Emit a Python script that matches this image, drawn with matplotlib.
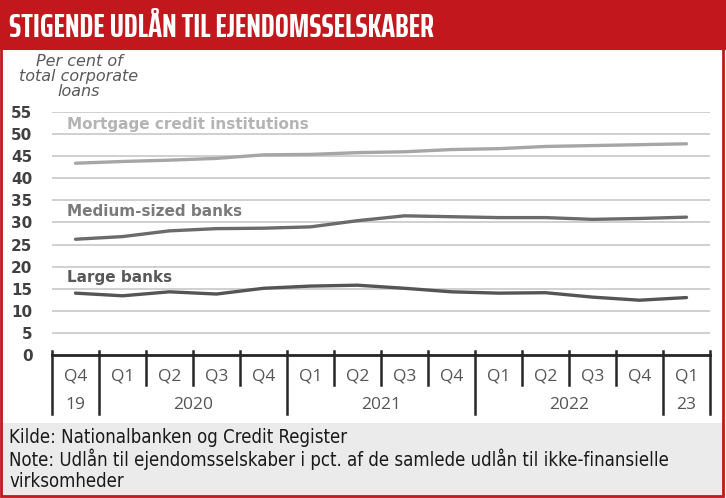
import numpy as np
import matplotlib
matplotlib.use("Agg")
import matplotlib.pyplot as plt
import matplotlib.transforms as mtransforms
from matplotlib.patches import Rectangle
from matplotlib import font_manager

# Data (per cent of total corporate loans)
quarters = ["Q4", "Q1", "Q2", "Q3", "Q4", "Q1", "Q2", "Q3", "Q4",
            "Q1", "Q2", "Q3", "Q4", "Q1"]
years = ["19", "2020", "2021", "2022", "23"]
year_len = [1, 4, 4, 4, 1]

mortgage = [43.4, 43.8, 44.1, 44.5, 45.3, 45.4, 45.8, 46.0, 46.5,
            46.7, 47.2, 47.4, 47.6, 47.8]
medium = [26.2, 26.8, 28.1, 28.6, 28.7, 29.0, 30.4, 31.5, 31.3,
          31.1, 31.1, 30.7, 30.9, 31.2]
large = [14.0, 13.4, 14.3, 13.8, 15.1, 15.6, 15.8, 15.1, 14.3,
         14.0, 14.1, 13.1, 12.4, 13.0]

title_str = "STIGENDE UDLÅN TIL EJENDOMSSELSKABER"
foot_lines = ["Kilde: Nationalbanken og Credit Register",
              "Note: Udlån til ejendomsselskaber i pct. af de samlede udlån til ikke-finansielle",
              "virksomheder"]

W, H = 726, 498
RED = "#c1171d"
DARK = "#404040"


def fx(px):
    return px / W


def fy(py):
    return 1 - py / H


def narrow_faces(bold, need_sans=False):
    # upright condensed / narrow faces on the system
    out = []
    for f in font_manager.fontManager.ttflist:
        tag = (f.name + " " + f.fname).lower()
        narrow = ("condensed" in tag or "narrow" in tag
                  or str(f.stretch) in ("condensed", "semi-condensed", "extra-condensed"))
        if not narrow or f.style != "normal":
            continue
        if "italic" in tag or "oblique" in tag or "mono" in tag or "serif" in tag:
            continue
        if need_sans and "sans" not in tag:
            continue
        w = f.weight if isinstance(f.weight, int) else {"bold": 700, "normal": 400}.get(f.weight, 400)
        if bold and 700 <= w <= 800:
            out.append(f.fname)
        if not bold and w == 400:
            out.append(f.fname)
    return sorted(set(out))


def text_w(fig, renderer, s, fp, size):
    t = fig.text(0, 0, s, fontproperties=fp, fontsize=size)
    w = t.get_window_extent(renderer).width
    t.remove()
    return w


def pick_face(faces, text, size, target_px, renderer, fig):
    # proportional face whose width at this size is closest to the target
    best, best_d = None, None
    for fn in faces:
        fp = font_manager.FontProperties(fname=fn)
        if text_w(fig, renderer, "iiiiiiii", fp, 20) > 0.7 * text_w(fig, renderer, "MMMMMMMM", fp, 20):
            continue  # monospaced
        d = abs(text_w(fig, renderer, text, fp, size) - target_px)
        if best_d is None or d < best_d:
            best, best_d = fn, d
    return best


fig = plt.figure(figsize=(W / 100, H / 100), dpi=100)
renderer = fig.canvas.get_renderer()

# red title band
fig.patches.append(Rectangle((0, fy(50)), 1, 1 - fy(50), transform=fig.transFigure,
                             facecolor=RED, edgecolor="none", zorder=0))
tface = pick_face(narrow_faces(True), title_str, 27, 426, renderer, fig)
tkw = dict(color="white", va="center", ha="left", fontsize=27)
if tface:
    tkw["fontproperties"] = font_manager.FontProperties(fname=tface)
else:
    tkw["weight"] = "bold"
title = fig.text(fx(9), fy(28), title_str, **tkw)
tw = title.get_window_extent(renderer).width
title.set_fontsize(min(27, 27 * 426 / tw))

# grey footer band
fig.patches.append(Rectangle((fx(1), fy(495)), fx(723) - fx(1), fy(423) - fy(495),
                             transform=fig.transFigure, facecolor="#ebebeb",
                             edgecolor="none", zorder=0))
fface = pick_face(narrow_faces(False, need_sans=True), foot_lines[1], 13, 659, renderer, fig)
foot_kw = dict(color="#1a1a1a", va="center", ha="left", fontsize=13)
if fface:
    foot_kw["fontproperties"] = font_manager.FontProperties(fname=fface)
else:
    foot_kw["family"] = "Open Sans"
foot = [fig.text(fx(9), fy(yy), s, **foot_kw) for s, yy in zip(foot_lines, [437, 459, 481])]
fw = foot[1].get_window_extent(renderer).width
for t in foot:
    t.set_fontsize(t.get_fontsize() * 659 / fw)

# red outer border
fig.patches.append(Rectangle((fx(1), fy(496)), fx(723) - fx(1), fy(1) - fy(496),
                             transform=fig.transFigure, facecolor="none",
                             edgecolor=RED, linewidth=2, zorder=5))

# y-axis title
fig.text(fx(79), fy(76), "Per cent of\ntotal corporate\nloans", style="italic",
         color="#595959", fontsize=11.5, ha="center", va="center", linespacing=1.0)

# axes
ax = fig.add_axes([fx(52), fy(355), fx(710) - fx(52), (355 - 112) / H])
x = np.arange(len(quarters))
ax.set_xlim(-0.5, len(quarters) - 0.5)
ax.set_ylim(0, 55)
ax.set_yticks(np.arange(0, 56, 5))
ax.tick_params(axis="y", length=0, pad=14, labelsize=11, labelcolor=DARK)
for lab in ax.get_yticklabels():
    lab.set_fontweight("bold")
ax.set_xticks([])
ax.yaxis.grid(True, color="#c8c8c8", linewidth=1.2)
ax.set_axisbelow(True)
for s in ["top", "right", "left"]:
    ax.spines[s].set_visible(False)
ax.spines["bottom"].set_color("#262626")
ax.spines["bottom"].set_linewidth(2)

ax.plot(x, mortgage, color="#a6a6a6", linewidth=2.4, solid_capstyle="round")
ax.plot(x, medium, color="#6b6b6b", linewidth=2.4, solid_capstyle="round")
ax.plot(x, large, color="#555555", linewidth=2.4, solid_capstyle="round")

ax.text(-0.18, 52.2, "Mortgage credit institutions", color="#b4b4b4",
        weight="bold", fontsize=11, va="center")
ax.text(-0.18, 32.5, "Medium-sized banks", color="#7a7a7a",
        weight="bold", fontsize=11, va="center")
ax.text(-0.18, 17.5, "Large banks", color="#595959",
        weight="bold", fontsize=11, va="center")

# category axis: ticks, separators, labels
trans = mtransforms.blended_transform_factory(ax.transData, ax.transAxes)
bounds = np.arange(-0.5, len(quarters), 1.0)
long_bounds = list(np.cumsum([0] + year_len) - 0.5)
for b in bounds:
    low = -0.243 if b in long_bounds else -0.123
    ax.plot([b, b], [0.018, low], transform=trans, clip_on=False,
            color="#262626", linewidth=1.8)

for xi, q in zip(x, quarters):
    ax.text(xi, -0.088, q, transform=trans, ha="center", va="center",
            fontsize=12.5, color="#555555", family="Open Sans")

starts = np.cumsum([0] + year_len[:-1])
for s, n, yr in zip(starts, year_len, years):
    ax.text(s + (n - 1) / 2, -0.206, yr, transform=trans, ha="center", va="center",
            fontsize=12.5, color="#555555", family="Open Sans")

fig.savefig("out.png", dpi=100)
